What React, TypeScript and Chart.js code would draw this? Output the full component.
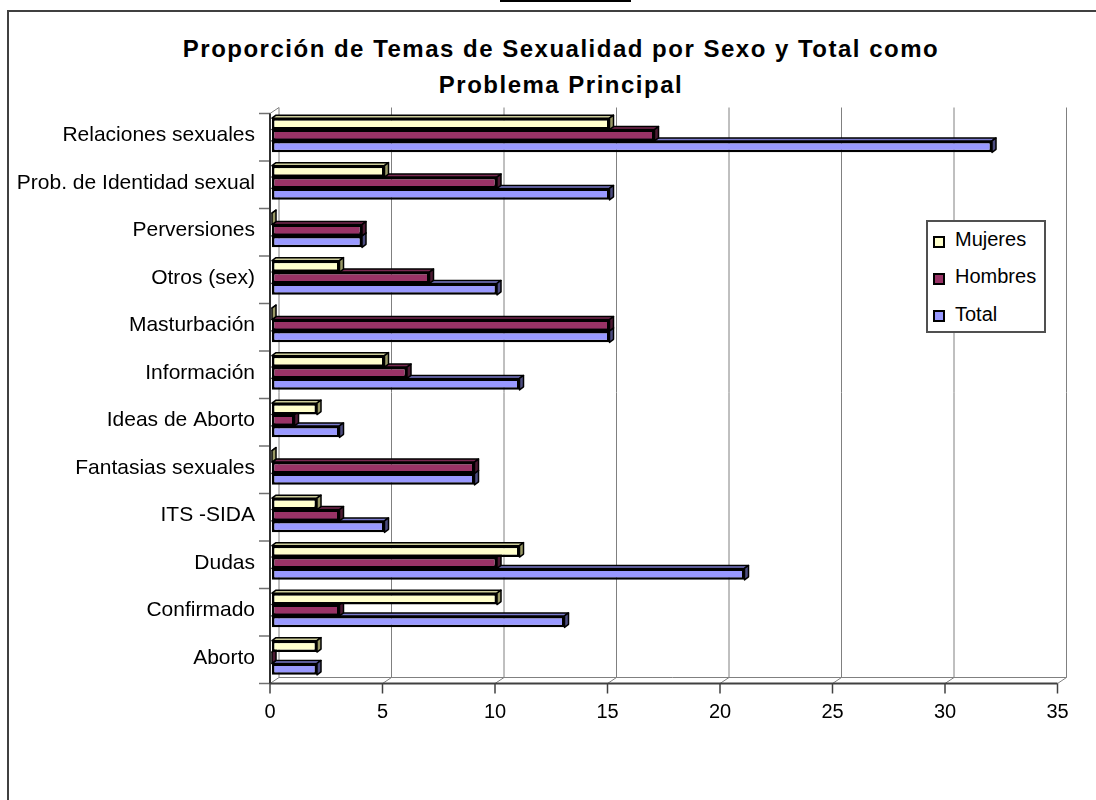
import React, { useEffect, useRef } from 'react';
import { Chart, registerables } from 'chart.js';

Chart.register(...registerables);

const categories = [
  'Relaciones sexuales',
  'Prob. de Identidad sexual',
  'Perversiones',
  'Otros (sex)',
  'Masturbación',
  'Información',
  'Ideas de Aborto',
  'Fantasias sexuales',
  'ITS -SIDA',
  'Dudas',
  'Confirmado',
  'Aborto',
];
const seriesNames = ['Mujeres', 'Hombres', 'Total'];
const mujeres = [15, 5, 0, 3, 0, 5, 2, 0, 2, 11, 10, 2];
const hombres = [17, 10, 4, 7, 15, 6, 1, 9, 3, 10, 3, 0];
const total = [32, 15, 4, 10, 15, 11, 3, 9, 5, 21, 13, 2];
const xTickValues = [0, 5, 10, 15, 20, 25, 30, 35];
const titleLines = ['Proporción de Temas de Sexualidad por Sexo y Total como', 'Problema Principal'];

const seriesColors = ['#FFFFCC', '#993366', '#9999FF'];
const topFaceColors = ['#CCCC99', '#7A2952', '#7A7ACC'];
const sideFaceColors = ['#999966', '#4D1A33', '#4D4D80'];

const FONT = '"Liberation Sans", Arial, sans-serif';
const FRONT = { dx: -2, dy: 2 };
const BACK = { dx: 7, dy: -4 };
const BAR_D = { dx: 4, dy: -3 };

const excel3d = {
  id: 'excel3d',
  beforeDatasetsDraw(chart: any) {
    const { ctx, chartArea: a, scales } = chart;
    const xs = scales.x;
    ctx.save();
    const seg = (x1: number, y1: number, x2: number, y2: number, c: string, w: number) => {
      ctx.beginPath();
      ctx.strokeStyle = c;
      ctx.lineWidth = w;
      ctx.moveTo(x1, y1);
      ctx.lineTo(x2, y2);
      ctx.stroke();
    };
    const p0 = xs.getPixelForValue(xTickValues[0]);
    const pEnd = xs.getPixelForValue(xTickValues[xTickValues.length - 1]);
    const topF = a.top + FRONT.dy, botF = a.bottom + FRONT.dy;
    const topB = a.top + BACK.dy, botB = a.bottom + BACK.dy;
    for (const v of xTickValues) {
      const px = xs.getPixelForValue(v);
      seg(px + BACK.dx, topB, px + BACK.dx, botB, '#808080', 1);
      seg(px + FRONT.dx, botF, px + BACK.dx, botB, '#808080', 1);
    }
    seg(p0 + BACK.dx, botB, pEnd + BACK.dx, botB, '#808080', 1);
    seg(p0 + FRONT.dx, topF, p0 + BACK.dx, topB, '#808080', 1);
    const n = categories.length;
    const ch = (a.bottom - a.top) / n;
    for (let i = 0; i <= n; i++) {
      const yy = a.top + i * ch + FRONT.dy;
      seg(p0 + FRONT.dx - 11, yy, p0 + FRONT.dx, yy, '#707070', 1.5);
    }
    seg(p0 + FRONT.dx, topF, p0 + FRONT.dx, botF, '#303030', 2);
    seg(p0 + FRONT.dx, botF, pEnd + FRONT.dx, botF, '#404040', 2);
    for (const v of xTickValues) {
      const px = xs.getPixelForValue(v) + FRONT.dx;
      seg(px, botF, px, botF + 10, '#404040', 1.5);
    }
    for (let di = chart.data.datasets.length - 1; di >= 0; di--) {
      const meta = chart.getDatasetMeta(di);
      meta.data.forEach((el: any) => {
        const { x, y, base, height } = el.getProps(['x', 'y', 'base', 'height'], true);
        const t = y - height / 2;
        const b = y + height / 2;
        ctx.lineWidth = 1.5;
        ctx.strokeStyle = '#000';
        ctx.lineJoin = 'round';
        ctx.beginPath();
        ctx.moveTo(base, t);
        ctx.lineTo(base + BAR_D.dx, t + BAR_D.dy);
        ctx.lineTo(x + BAR_D.dx, t + BAR_D.dy);
        ctx.lineTo(x, t);
        ctx.closePath();
        ctx.fillStyle = topFaceColors[di];
        ctx.fill();
        ctx.stroke();
        ctx.beginPath();
        ctx.moveTo(x, t);
        ctx.lineTo(x + BAR_D.dx, t + BAR_D.dy);
        ctx.lineTo(x + BAR_D.dx, b + BAR_D.dy);
        ctx.lineTo(x, b);
        ctx.closePath();
        ctx.fillStyle = sideFaceColors[di];
        ctx.fill();
        ctx.stroke();
      });
    }
    ctx.restore();
  },
};

export default function App() {
  const canvasRef = useRef<HTMLCanvasElement | null>(null);

  useEffect(() => {
    const canvas = canvasRef.current;
    if (!canvas) return;
    const series = [mujeres, hombres, total];
    const chart = new Chart(canvas, {
      type: 'bar',
      data: {
        labels: categories,
        datasets: seriesNames.map((name, i) => ({
          label: name,
          data: series[i],
          backgroundColor: seriesColors[i],
          borderColor: '#000',
          borderWidth: 2.5,
          borderSkipped: false,
          categoryPercentage: 0.72,
          barPercentage: 1,
        })),
      },
      options: {
        indexAxis: 'y',
        responsive: false,
        animation: false,
        devicePixelRatio: 1,
        layout: { padding: { top: 111.5, right: 36.5, left: 0, bottom: 0 } },
        plugins: {
          legend: { display: false },
          title: { display: false },
          tooltip: { enabled: false },
        },
        scales: {
          x: {
            min: 0,
            max: 35,
            position: 'bottom',
            afterBuildTicks: (s: any) => {
              s.ticks = xTickValues.map((v) => ({ value: v }));
            },
            ticks: {
              font: { family: FONT, size: 20 },
              color: '#000',
              padding: 19,
              labelOffset: -2,
              maxRotation: 0,
              autoSkip: false,
            },
            grid: { display: false, drawTicks: false },
            border: { display: false },
            afterFit: (s: any) => {
              s.height = 118.5;
            },
          },
          y: {
            ticks: {
              font: { family: FONT, size: 21 },
              color: '#000',
              padding: 17,
              autoSkip: false,
            },
            grid: { display: false, drawTicks: false },
            border: { display: false },
            afterFit: (s: any) => {
              s.width = 272;
            },
          },
        },
      },
      plugins: [excel3d],
    } as any);
    return () => chart.destroy();
  }, []);

  const legendTops = [229, 266, 304];
  const squareTops = [236, 273, 310];

  return (
    <div style={{ position: 'fixed', left: 0, top: 0, width: 1096, height: 800, overflow: 'hidden', background: '#fff' }}>
      <div style={{ position: 'absolute', left: 500, top: 0, width: 131, height: 2, background: '#000' }} />
      <div
        style={{
          position: 'absolute',
          left: 7,
          top: 10,
          width: 1300,
          height: 1000,
          border: '2px solid #404040',
          boxSizing: 'border-box',
        }}
      />
      <div
        style={{
          position: 'absolute',
          left: 1,
          top: 31,
          width: 1120,
          textAlign: 'center',
          fontFamily: FONT,
          fontWeight: 'bold',
          fontSize: 24,
          letterSpacing: '1.5px',
          lineHeight: '36px',
          color: '#000',
        }}
      >
        {titleLines.map((l) => (
          <div key={l}>{l}</div>
        ))}
      </div>
      <canvas ref={canvasRef} width={1096} height={800} style={{ position: 'absolute', left: 0, top: 0, width: 1096, height: 800 }} />
      <div
        style={{
          position: 'absolute',
          left: 926,
          top: 220,
          width: 120,
          height: 113,
          border: '2px solid #505050',
          boxSizing: 'border-box',
          background: '#fff',
        }}
      />
      {seriesNames.map((name, i) => (
        <React.Fragment key={name}>
          <div
            style={{
              position: 'absolute',
              left: 933,
              top: squareTops[i],
              width: 12,
              height: 12,
              boxSizing: 'border-box',
              border: '2px solid #000',
              background: seriesColors[i],
            }}
          />
          <div
            style={{
              position: 'absolute',
              left: 955,
              top: legendTops[i],
              fontFamily: FONT,
              fontSize: 20,
              lineHeight: '20px',
              color: '#000',
              whiteSpace: 'nowrap',
            }}
          >
            {name}
          </div>
        </React.Fragment>
      ))}
    </div>
  );
}
